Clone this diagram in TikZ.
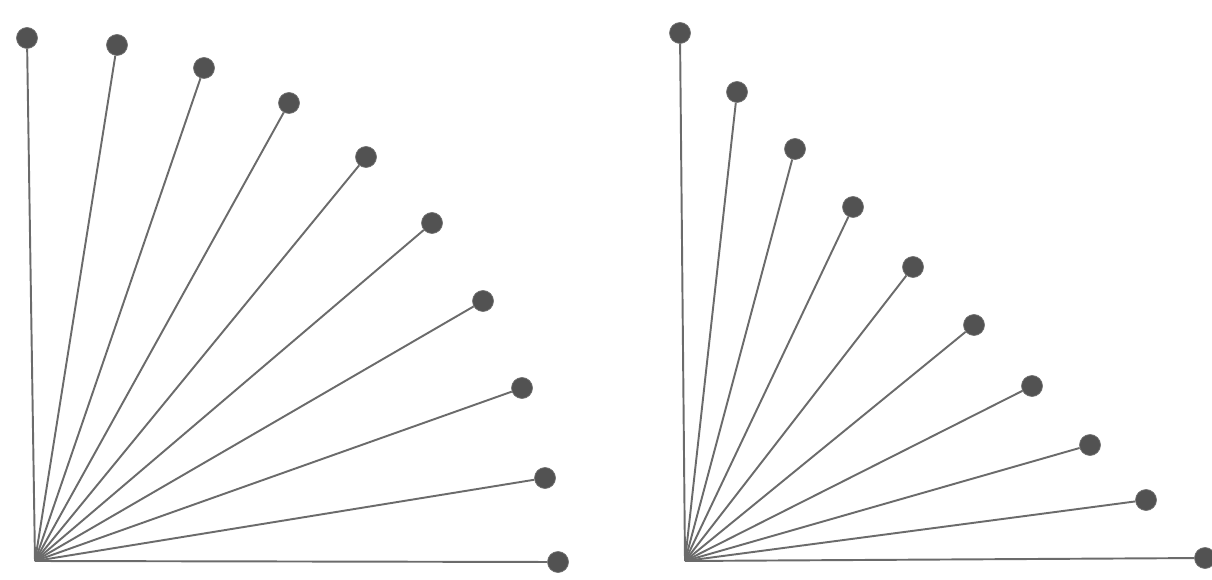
\documentclass[tikz,border=0pt]{standalone}
\usetikzlibrary{positioning}

\begin{document}
\begin{tikzpicture}[x=0.02cm, y=-0.02cm,
  dot/.style={circle, fill=black!68, draw=black!55, inner sep=0pt, minimum size=0.42cm},
  spoke/.style={draw=black!58, line width=1.1pt}]
  \useasboundingbox (0,0) rectangle (1212,580);
  % left fan
  \coordinate (ol) at (35,561);
  \foreach \p [count=\i] in {(27,38),(117,45),(204,68),(289,103),(366,157),
                             (432,223),(483,301),(522,388),(545,478),(558,562)}
    \node[dot] (l\i) at \p {};
  \foreach \i in {1,...,10}
    \draw[spoke] (ol) -- (l\i);
  % right fan
  \coordinate (or) at (685,561);
  \foreach \p [count=\i] in {(680,33),(737,92),(795,149),(853,207),(913,267),
                             (974,325),(1032,386),(1090,445),(1146,500),(1205,558)}
    \node[dot] (r\i) at \p {};
  \foreach \i in {1,...,10}
    \draw[spoke] (or) -- (r\i);
\end{tikzpicture}
\end{document}
